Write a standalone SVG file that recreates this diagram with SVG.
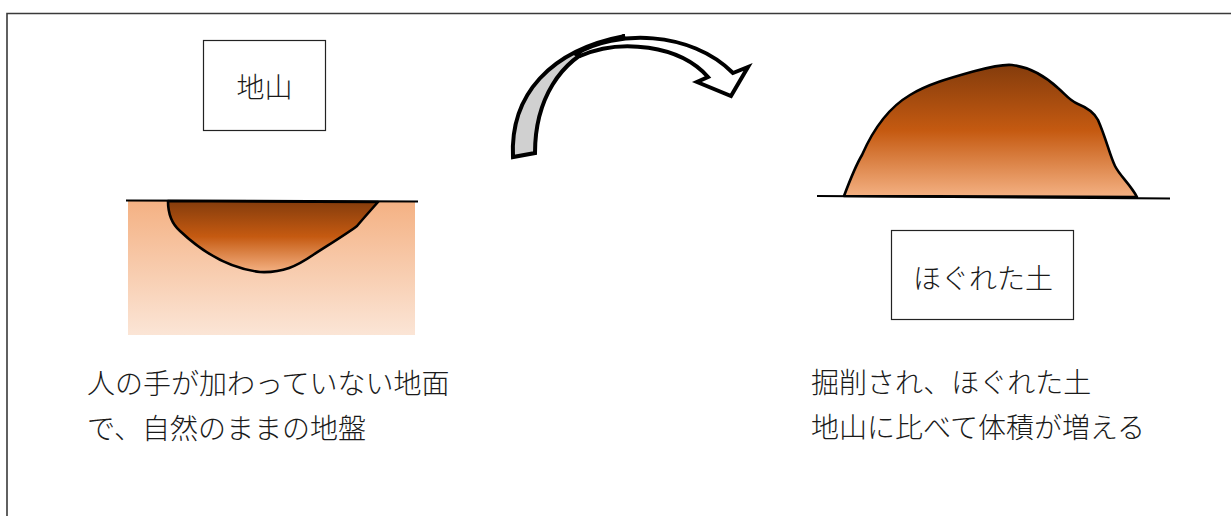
<svg xmlns="http://www.w3.org/2000/svg" width="1231" height="516" viewBox="0 0 1231 516">
  <style>
    .frame { fill: none; stroke: #3a3a3a; stroke-width: 1.6; }
    .box { fill: #ffffff; stroke: #222222; stroke-width: 1.2; }
    .label { font-family: "Noto Sans CJK JP", sans-serif; font-size: 28px; font-weight: 300; fill: #1a1a1a; }
    .ground { fill: none; stroke: #000000; stroke-width: 2.2; }
    .soil { stroke: #000000; stroke-width: 2.6; stroke-linejoin: round; }
    .arrow { stroke: #000000; stroke-width: 4; stroke-linejoin: miter; }
  </style>
  <defs>
    <linearGradient id="earth" x1="0" y1="0" x2="0" y2="1">
      <stop offset="0" stop-color="#F4B183"/>
      <stop offset="1" stop-color="#FBE5D6"/>
    </linearGradient>
    <linearGradient id="pitSoil" x1="0" y1="0" x2="0" y2="1">
      <stop offset="0" stop-color="#843C0C"/>
      <stop offset="0.5" stop-color="#C55A11"/>
      <stop offset="1" stop-color="#F4B183"/>
    </linearGradient>
    <linearGradient id="moundSoil" x1="0" y1="0" x2="0" y2="1">
      <stop offset="0" stop-color="#843C0C"/>
      <stop offset="0.5" stop-color="#C55A11"/>
      <stop offset="1" stop-color="#F4B183"/>
    </linearGradient>
  </defs>

  <!-- outer frame (top and left edges) -->
  <path class="frame" d="M7,516 L7,13.5 L1231,13.5"/>

  <!-- undisturbed ground -->
  <g id="natural-ground">
    <rect x="128" y="201" width="287" height="134" fill="url(#earth)"/>
    <path class="soil" fill="url(#pitSoil)" d="M168,201 C168,214 172,224 180,231 C198,248 225,268 260,272 C283,273 297,266 313,255 C330,244 348,233 357,226 C362,220 370,211 378,202 Z"/>
    <line class="ground" x1="126" y1="200.5" x2="418" y2="201.5"/>
  </g>

  <g id="node-jiyama">
    <rect class="box" x="203.5" y="40.5" width="122" height="90"/>
    <text class="label" x="264.5" y="86" text-anchor="middle" dominant-baseline="central">地山</text>
  </g>

  <g id="caption-left">
    <text class="label" x="87" y="382" dominant-baseline="central">人の手が加わっていない地面</text>
    <text class="label" x="87" y="427" dominant-baseline="central">で、自然のままの地盤</text>
  </g>

  <!-- loosened soil pile -->
  <g id="loosened-pile">
    <path class="soil" fill="url(#moundSoil)" d="M844,196 C850,180 856,165 862,155 C872,132 888,108 910,95 C928,84 950,78 975,71 C990,67 1002,64 1012,65 C1030,67 1045,76 1058,88 C1066,95 1070,101 1078,104 C1088,108 1094,112 1098,120 C1106,138 1110,156 1115,166 C1120,176 1130,184 1137,197 Z"/>
    <line class="ground" x1="817" y1="196" x2="1170" y2="198.5"/>
  </g>

  <g id="node-hogureta">
    <rect class="box" x="891.5" y="230.5" width="182" height="89"/>
    <text class="label" x="983" y="277" text-anchor="middle" dominant-baseline="central">ほぐれた土</text>
  </g>

  <g id="caption-right">
    <text class="label" x="811" y="381" dominant-baseline="central">掘削され、ほぐれた土</text>
    <text class="label" x="811" y="426" dominant-baseline="central">地山に比べて体積が増える</text>
  </g>

  <!-- curved arrow from the natural ground to the loosened pile -->
  <g id="connectors">
    <path class="arrow" fill="#D0D0D0" d="M513,157 C510,95 550,50 625,36 L600,45 C560,60 535,100 535,153 Z"/>
    <path class="arrow" fill="#FFFFFF" d="M576,54 C615,30 690,30 733,73 L748,67 L731,96 L697,82 L708,77 C680,45 620,38 580,56 Z"/>
  </g>
</svg>
